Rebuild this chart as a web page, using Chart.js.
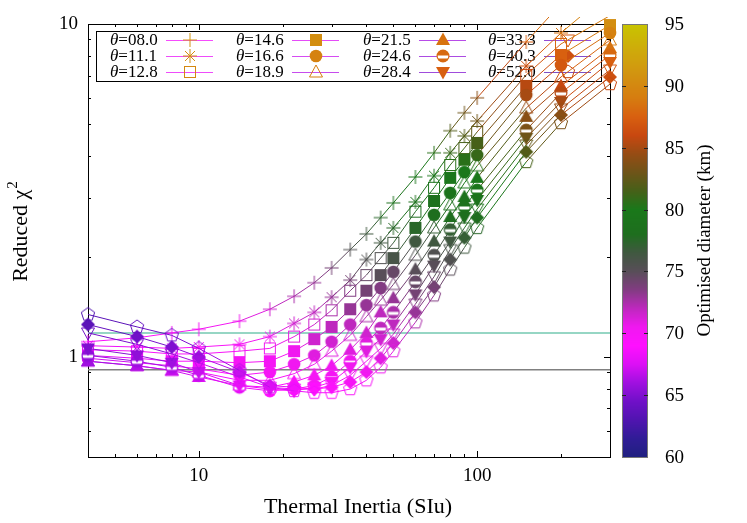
<!DOCTYPE html>
<html><head><meta charset="utf-8">
<script src="https://cdn.jsdelivr.net/npm/chart.js@4/dist/chart.umd.min.js"></script>
<style>html,body{margin:0;padding:0;background:#fff;}#wrap{width:747px;height:523px;position:relative;}</style>
</head><body><div id="wrap"><canvas id="c" width="747" height="523"></canvas></div>
<script>
// ---------------- data ----------------
const thermalInertia = [4,6,8,10,14,18,22,26,30,35,40,45,50,60,70,80,90,100,150,200,300];
const thetaLabels = ['08.0','11.1','12.8','14.6','16.6','18.9','21.5','24.6','28.4','33.3','40.3','52.0'];

const chi2_t08_0 = [1.11,1.14,1.18,1.21,1.28,1.39,1.52,1.67,1.85,2.10,2.34,2.62,2.90,3.47,4.10,4.78,5.41,6.00,8.83,11.5,15.5];
const chi2_t11_1 = [1.08,1.07,1.06,1.07,1.09,1.15,1.26,1.36,1.51,1.70,1.96,2.20,2.44,2.92,3.50,4.10,4.61,5.11,7.48,9.40,12.5];
const chi2_t12_8 = [1.05,1.04,1.02,1.02,1.04,1.06,1.15,1.25,1.38,1.58,1.76,1.98,2.20,2.73,3.22,3.77,4.24,4.74,7.03,8.71,10.6];
const chi2_t14_6 = [1.01,0.99,0.97,0.97,0.96,0.97,1.04,1.13,1.23,1.39,1.58,1.76,1.98,2.44,2.94,3.45,3.91,4.39,6.51,8.07,9.93];
const chi2_t16_6 = [0.99,0.96,0.94,0.92,0.88,0.90,0.95,1.01,1.11,1.25,1.43,1.61,1.80,2.22,2.67,3.11,3.59,4.04,6.12,7.53,9.40];
const chi2_t18_9 = [0.97,0.94,0.91,0.90,0.85,0.85,0.89,0.95,1.04,1.16,1.32,1.48,1.65,2.02,2.44,2.86,3.33,3.75,5.59,6.93,8.95];
const chi2_t21_5 = [0.97,0.94,0.91,0.87,0.82,0.81,0.84,0.88,0.94,1.05,1.18,1.36,1.50,1.83,2.22,2.63,3.02,3.45,5.26,6.51,8.47];
const chi2_t24_6 = [1.01,0.97,0.93,0.88,0.81,0.79,0.80,0.82,0.87,0.97,1.10,1.22,1.36,1.68,2.02,2.41,2.82,3.17,4.80,6.21,8.07];
const chi2_t28_4 = [1.06,1.01,0.96,0.90,0.82,0.80,0.79,0.81,0.84,0.93,1.04,1.13,1.25,1.54,1.88,2.22,2.63,2.96,4.55,5.83,7.69];
const chi2_t33_3 = [1.18,1.09,1.02,0.96,0.87,0.81,0.80,0.80,0.82,0.88,0.97,1.06,1.17,1.44,1.74,2.10,2.44,2.78,4.33,5.56,7.28];
const chi2_t40_3 = [1.25,1.15,1.07,1.00,0.90,0.82,0.81,0.80,0.81,0.84,0.90,0.99,1.10,1.36,1.62,1.96,2.28,2.62,4.13,5.33,6.93];
const chi2_t52_0 = [1.34,1.23,1.16,1.06,0.91,0.81,0.79,0.78,0.78,0.80,0.85,0.93,1.04,1.27,1.53,1.83,2.13,2.44,3.85,5.04,6.60];

const diam_t08_0 = [68.5,69,69.5,70,70.5,71.5,72.5,73,74,75.5,76.5,77.5,78.5,79.5,80.5,82,83,84,87.5,89,91];
const diam_t11_1 = [68,68.5,69,69.5,70,70.5,71.5,72,73,74,75.5,76.5,77.5,78.5,79.5,81,82,83,86.5,88.5,90.5];
const diam_t12_8 = [68,68.5,69,69.5,70,70.5,71,71.5,72.5,73.5,74.5,75.5,76.5,78,79,80.5,81.5,82.5,86,88,90];
const diam_t14_6 = [67.5,68,68.5,69,70,70,70.5,71.5,72,73,74,75,76,77.5,78.5,79.5,80.5,81.5,85.5,87.5,90.5];
const diam_t16_6 = [67,67.5,68,68.5,69.5,70,70.5,71,71.5,72,73,73.5,74.5,76.5,78,79,80,81,85,87,89.5];
const diam_t18_9 = [66.5,67,67.5,68,69,69.5,70,70.5,71,71.5,72.5,73,74,75.5,77,78.5,79.5,80.5,84.5,86.5,89];
const diam_t21_5 = [66,66.5,67,67.5,68.5,69,69.5,70,70.5,71,71.5,72,73,75,76.5,78,79,80,84,86,88.5];
const diam_t24_6 = [65.5,66,66.5,67,68,69,69.5,70,70,70.5,71,72,72.5,74.5,75.5,77,78.5,79.5,83.5,85.5,88];
const diam_t28_4 = [65,65.5,66,67,68,68.5,69,69.5,70,70.5,71,71.5,72,74,75,76.5,78,79,83,85,87.5];
const diam_t33_3 = [64.5,65,65.5,66.5,67.5,68,68.5,69,69.5,70,70.5,71,71.5,73.5,74.5,76,77.5,78.5,82.5,84.5,87];
const diam_t40_3 = [63.5,64.5,65,66,67,67.5,68.5,69,69.5,70,70.5,71,71.5,73,74,75.5,77,78,82,84,86.5];
const diam_t52_0 = [63,64,64.5,65.5,66.5,67,68,68.5,69,69.5,70,70.5,71,72.5,73.5,75,76.5,77.5,81.5,83.5,86];

const refChi2Upper = 1.18;
const refChi2Lower = 0.914;

const xTickValues = [4,5,6,7,8,9,10,20,30,40,50,60,70,80,90,100,200,300];
const xTickLabels = [10,100];
const yTickValues = [0.5,0.6,0.7,0.8,0.9,1,2,3,4,5,6,7,8,9,10];
const yTickLabels = [1,10];
const cbTickValues = [60,65,70,75,80,85,90,95];

// ---------------- styles ----------------
const FONT = "'Liberation Serif', 'Times New Roman', serif";
const cbStopVals = [60,61.5,63,64.5,66,67.5,69,70.5,72,73.5,75,76.5,78,80,81.5,83,84.5,86,87.5,89,91,93,95];
const cbStopRGB = [[32,32,128],[48,28,150],[80,20,176],[112,16,200],[160,16,224],[220,16,245],[255,16,255],[240,24,240],[190,40,190],[130,60,130],[88,78,88],[64,88,64],[30,110,30],[26,120,26],[70,96,24],[110,84,24],[150,76,20],[200,72,16],[216,96,16],[214,124,16],[210,148,16],[206,172,10],[200,196,0]];
const shapes = ['plus','star','sqOpen','sqFill','circFill','triOpen','triFill','circBand','triDownFill','triDownOpen','diamFill','pentOpen'];

function pal(v) {
  if (v === undefined || isNaN(v)) v = 70;
  const n = cbStopVals.length;
  if (v <= cbStopVals[0]) return 'rgb(' + cbStopRGB[0].join(',') + ')';
  if (v >= cbStopVals[n-1]) return 'rgb(' + cbStopRGB[n-1].join(',') + ')';
  for (let i = 0; i < n - 1; i++) {
    if (v <= cbStopVals[i+1]) {
      const t = (v - cbStopVals[i]) / (cbStopVals[i+1] - cbStopVals[i]);
      const a = cbStopRGB[i], b = cbStopRGB[i+1];
      return 'rgb(' + [0,1,2].map(k => Math.round(a[k] + (b[k]-a[k])*t)).join(',') + ')';
    }
  }
}

const markerCache = {};
function marker(shape, color) {
  const key = shape + '|' + color;
  if (markerCache[key]) return markerCache[key];
  const c = document.createElement('canvas');
  c.width = 20; c.height = 20;
  const g = c.getContext('2d');
  g.strokeStyle = color; g.fillStyle = color; g.lineWidth = 1;
  const m = 10;
  g.beginPath();
  switch (shape) {
    case 'plus':
      g.moveTo(m-7, m); g.lineTo(m+7, m); g.moveTo(m, m-7); g.lineTo(m, m+7); g.stroke(); break;
    case 'star':
      g.moveTo(m-7, m); g.lineTo(m+7, m); g.moveTo(m, m-7); g.lineTo(m, m+7);
      g.moveTo(m-5, m-5); g.lineTo(m+5, m+5); g.moveTo(m-5, m+5); g.lineTo(m+5, m-5); g.stroke(); break;
    case 'sqOpen':
      g.strokeRect(m-5.5, m-5.5, 11, 11); break;
    case 'sqFill':
      g.fillRect(m-6, m-6, 12, 12); break;
    case 'circFill':
      g.arc(m, m, 6.3, 0, Math.PI*2); g.fill(); break;
    case 'triOpen':
      g.moveTo(m, m-7); g.lineTo(m+6.5, m+5); g.lineTo(m-6.5, m+5); g.closePath(); g.stroke(); break;
    case 'triFill':
      g.moveTo(m, m-7.5); g.lineTo(m+7, m+5); g.lineTo(m-7, m+5); g.closePath(); g.fill(); break;
    case 'circBand':
      g.arc(m, m, 6.5, 0, Math.PI*2); g.fill();
      g.save(); g.beginPath(); g.arc(m, m, 5.3, 0, Math.PI*2); g.clip();
      g.fillStyle = '#fff'; g.fillRect(m-7, m-0.5, 14, 3); g.restore(); break;
    case 'triDownFill':
      g.moveTo(m, m+7.5); g.lineTo(m+7, m-5); g.lineTo(m-7, m-5); g.closePath(); g.fill(); break;
    case 'triDownOpen':
      g.moveTo(m, m+7); g.lineTo(m+6.5, m-5); g.lineTo(m-6.5, m-5); g.closePath(); g.stroke(); break;
    case 'diamFill':
      g.moveTo(m, m-7); g.lineTo(m+7, m); g.lineTo(m, m+7); g.lineTo(m-7, m); g.closePath(); g.fill(); break;
    case 'pentOpen':
      for (let k = 0; k < 5; k++) {
        const ang = -Math.PI/2 + k*2*Math.PI/5;
        const px = m + 7*Math.cos(ang), py = m + 7*Math.sin(ang);
        if (k === 0) g.moveTo(px, py); else g.lineTo(px, py);
      }
      g.closePath(); g.stroke(); break;
  }
  markerCache[key] = c;
  return c;
}

const chiSeries = [chi2_t08_0,chi2_t11_1,chi2_t12_8,chi2_t14_6,chi2_t16_6,chi2_t18_9,chi2_t21_5,chi2_t24_6,chi2_t28_4,chi2_t33_3,chi2_t40_3,chi2_t52_0];
const diamSeries = [diam_t08_0,diam_t11_1,diam_t12_8,diam_t14_6,diam_t16_6,diam_t18_9,diam_t21_5,diam_t24_6,diam_t28_4,diam_t33_3,diam_t40_3,diam_t52_0];

const datasets = chiSeries.map((chi, i) => {
  const D = diamSeries[i];
  return {
    label: 'θ=' + thetaLabels[i],
    data: thermalInertia.map((x, j) => ({x: x, y: chi[j]})),
    borderWidth: 1,
    borderColor: pal(D[0]),
    segment: { borderColor: c => pal((D[c.p0DataIndex] + D[c.p1DataIndex]) / 2) },
    pointStyle: c => (c.dataIndex === undefined ? 'circle' : marker(shapes[i], pal(D[c.dataIndex]))),
    pointRadius: c => (c.dataIndex === undefined ? 6 : (chi[c.dataIndex] > 10 ? 0 : 6)),
    pointHoverRadius: 0,
    fill: false,
    tension: 0,
    order: -i,
    clip: {left: 12, top: 7, right: 12, bottom: 12}
  };
});
datasets.push({
  label: 'ref1', data: [{x: 4, y: refChi2Upper}, {x: 300, y: refChi2Upper}],
  borderColor: 'rgb(150,214,196)', borderWidth: 2, pointRadius: 0, order: 100, clip: 0
});
datasets.push({
  label: 'ref2', data: [{x: 4, y: refChi2Lower}, {x: 300, y: refChi2Lower}],
  borderColor: 'rgb(128,128,128)', borderWidth: 1.5, pointRadius: 0, order: 101, clip: 0
});

const legCols = [110, 236, 363, 488];
const legRows = [40, 56, 72];

const decoPlugin = {
  id: 'deco',
  beforeDatasetsDraw(chart) {
    const {ctx, chartArea: a, scales: {x, y}} = chart;
    ctx.save();
    ctx.strokeStyle = '#000'; ctx.lineWidth = 1;
    ctx.strokeRect(96.5, 31.5, 505, 50);
    ctx.textBaseline = 'middle'; ctx.textAlign = 'left'; ctx.fillStyle = '#000';
    for (let i = 0; i < thetaLabels.length; i++) {
      const col = Math.floor(i / 3), row = i % 3;
      const tx = legCols[col], ty = legRows[row];
      ctx.font = 'italic 17px ' + FONT;
      ctx.fillText('θ', tx, ty + 1);
      const w = ctx.measureText('θ').width;
      ctx.font = '17px ' + FONT;
      ctx.fillText('=' + thetaLabels[i], tx + w, ty + 1);
      const D = diamSeries[i];
      ctx.strokeStyle = pal(D[0]); ctx.globalAlpha = 0.75;
      ctx.beginPath(); ctx.moveTo(tx + 56, ty + 0.5); ctx.lineTo(tx + 103, ty + 0.5); ctx.stroke();
      ctx.globalAlpha = 1;
      ctx.drawImage(marker(shapes[i], pal(D[D.length - 1])), tx + 80 - 10, ty - 10);
    }
    ctx.strokeStyle = '#000'; ctx.lineWidth = 1;
    ctx.strokeRect(a.left + 0.5, a.top + 0.5, a.right - a.left, a.bottom - a.top);
    ctx.beginPath();
    xTickValues.forEach(v => {
      const px = Math.round(x.getPixelForValue(v)) + 0.5;
      const len = xTickLabels.includes(v) ? 6 : 3;
      ctx.moveTo(px, a.bottom); ctx.lineTo(px, a.bottom - len);
      ctx.moveTo(px, a.top); ctx.lineTo(px, a.top + len);
    });
    yTickValues.forEach(v => {
      const py = Math.round(y.getPixelForValue(v)) + 0.5;
      const len = yTickLabels.includes(v) ? 6 : 3;
      ctx.moveTo(a.left, py); ctx.lineTo(a.left + len, py);
      ctx.moveTo(a.right, py); ctx.lineTo(a.right - len, py);
    });
    ctx.stroke();
    ctx.restore();
  },
  afterDraw(chart) {
    const {ctx, chartArea: a} = chart;
    ctx.save();
    const cbL = 622, cbR = 648, cbT = a.top, cbB = a.bottom;
    const vmin = cbTickValues[0], vmax = cbTickValues[cbTickValues.length - 1];
    for (let py = cbT; py < cbB; py++) {
      const v = vmax - (py + 0.5 - cbT) / (cbB - cbT) * (vmax - vmin);
      ctx.fillStyle = pal(v);
      ctx.fillRect(cbL, py, cbR - cbL, 1);
    }
    ctx.strokeStyle = '#777'; ctx.lineWidth = 1;
    ctx.strokeRect(cbL + 0.5, cbT + 0.5, cbR - cbL - 1, cbB - cbT);
    ctx.strokeStyle = '#222';
    ctx.font = '19px ' + FONT; ctx.fillStyle = '#000';
    ctx.textAlign = 'left'; ctx.textBaseline = 'middle';
    cbTickValues.forEach(v => {
      const py = cbB - (v - vmin) / (vmax - vmin) * (cbB - cbT);
      const yy = Math.round(py) + 0.5;
      if (v !== vmin && v !== vmax) {
        ctx.beginPath();
        ctx.moveTo(cbL, yy); ctx.lineTo(cbL + 4, yy);
        ctx.moveTo(cbR, yy); ctx.lineTo(cbR - 4, yy);
        ctx.stroke();
      }
      ctx.fillText(String(v), 665, py + 1);
    });
    ctx.save();
    ctx.translate(705, (cbT + cbB) / 2);
    ctx.rotate(-Math.PI / 2);
    ctx.textAlign = 'center'; ctx.textBaseline = 'middle';
    ctx.fillText('Optimised diameter (km)', 0, 0);
    ctx.restore();
    // y title
    ctx.save();
    ctx.translate(21, 232);
    ctx.rotate(-Math.PI / 2);
    ctx.textBaseline = 'middle'; ctx.textAlign = 'left';
    ctx.font = '22px ' + FONT;
    const t1 = 'Reduced χ';
    const w1 = ctx.measureText(t1).width;
    ctx.font = '15px ' + FONT;
    const w2 = ctx.measureText('2').width;
    const start = -(w1 + w2) / 2;
    ctx.font = '22px ' + FONT;
    ctx.fillText(t1, start, 0);
    ctx.font = '15px ' + FONT;
    ctx.fillText('2', start + w1 + 1, -8);
    ctx.restore();
    // x title
    ctx.font = '22px ' + FONT; ctx.textAlign = 'center'; ctx.textBaseline = 'middle';
    ctx.fillText('Thermal Inertia (SIu)', 358, 507);
    ctx.restore();
  }
};

new Chart(document.getElementById('c'), {
  type: 'line',
  data: { datasets: datasets },
  options: {
    responsive: false, animation: false, devicePixelRatio: 1, events: [],
    layout: { padding: { left: 0, right: 137, top: 24, bottom: 0 } },
    plugins: { legend: { display: false }, tooltip: { enabled: false } },
    scales: {
      x: {
        type: 'logarithmic', position: 'bottom', min: 4, max: 300,
        afterBuildTicks: s => { s.ticks = xTickValues.map(v => ({value: v})); },
        afterFit: s => { s.height = 66; },
        grid: { display: false, drawTicks: false }, border: { display: false },
        ticks: { autoSkip: false, maxRotation: 0, padding: 8, color: '#000',
          font: { family: FONT, size: 19 },
          callback: v => (xTickLabels.includes(v) ? String(v) : '') }
      },
      y: {
        type: 'logarithmic', position: 'left', min: 0.5, max: 10,
        afterBuildTicks: s => { s.ticks = yTickValues.map(v => ({value: v})); },
        afterFit: s => { s.width = 88; },
        grid: { display: false, drawTicks: false }, border: { display: false },
        ticks: { autoSkip: false, padding: 10, color: '#000',
          font: { family: FONT, size: 19 },
          callback: v => (yTickLabels.includes(v) ? String(v) : '') }
      }
    }
  },
  plugins: [decoPlugin]
});
</script>
</body></html>
